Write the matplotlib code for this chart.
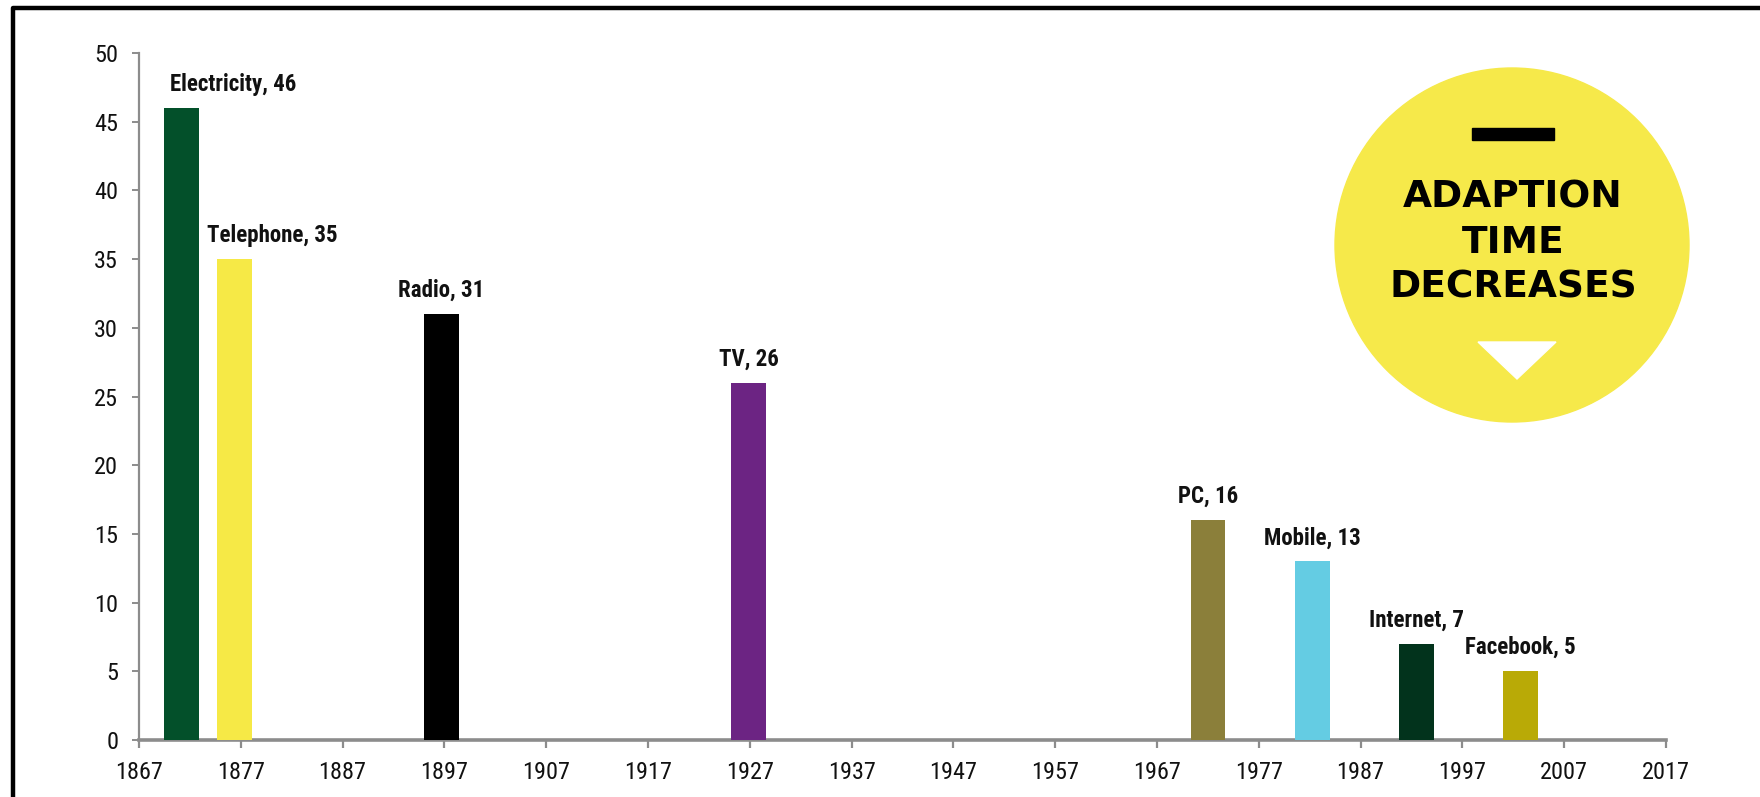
# plot.py
# Years it took each technology to be adopted

import matplotlib
matplotlib.use("Agg")
import matplotlib.pyplot as plt
from matplotlib import font_manager
from matplotlib.patches import Circle, Rectangle, Polygon
from matplotlib.lines import Line2D

technologies = ["Electricity", "Telephone", "Radio", "TV", "PC", "Mobile", "Internet", "Facebook"]
start_years = [1871.2, 1876.4, 1896.7, 1926.9, 1972.0, 1982.3, 1992.5, 2002.7]
adoption_years = [46, 35, 31, 26, 16, 13, 7, 5]
bar_colors = ["#03502A", "#F6E946", "#000000", "#6C2483", "#8B7F3A", "#64CCE3", "#02331C", "#B9AA06"]

year_ticks = list(range(1867, 2018, 10))
value_ticks = list(range(0, 51, 5))
badge_lines = ["ADAPTION", "TIME", "DECREASES"]


def pick_font(names):
    for name in names:
        try:
            font_manager.findfont(name, fallback_to_default=False)
            return name
        except Exception:
            pass
    return "DejaVu Sans"


def main():
    narrow = pick_font(["Liberation Sans Narrow", "Roboto Condensed", "DejaVu Sans"])

    fig = plt.figure(figsize=(17.6, 7.97), dpi=100)
    ax = fig.add_axes([139 / 1760, 1 - 740 / 797, (1666 - 139) / 1760, (740 - 53) / 797])

    ax.bar(start_years, adoption_years, width=3.4, color=bar_colors, zorder=3)

    # labels for the first two bars are pushed right, like in the source
    nudge = {"Electricity": 37, "Telephone": 27}
    for name, x, v in zip(technologies, start_years, adoption_years):
        ax.annotate(f"{name}, {v}", (x, v), xytext=(nudge.get(name, 0), 17),
                    textcoords="offset points", ha="center", va="center",
                    fontsize=16.5, fontweight="bold", family=narrow, color="#111111")

    ax.set_xlim(1867, 2017)
    ax.set_ylim(0, 50)
    ax.set_xticks(year_ticks)
    ax.set_yticks(value_ticks)
    for side in ["top", "right"]:
        ax.spines[side].set_visible(False)
    ax.spines["left"].set_color("#8C8C8C")
    ax.spines["left"].set_linewidth(1.6)
    ax.spines["bottom"].set_color("#8C8C8C")
    ax.spines["bottom"].set_linewidth(2.6)
    ax.tick_params(axis="y", length=5, width=1.4, color="#8C8C8C", pad=10)
    ax.tick_params(axis="x", length=6, width=1.6, color="#8C8C8C", pad=9)
    for lab in ax.get_xticklabels() + ax.get_yticklabels():
        lab.set_family(narrow)
        lab.set_fontsize(17.5)
        lab.set_color("#111111")

    # black frame, open to the right and bottom
    fig.add_artist(Line2D([13 / 1760, 13 / 1760, 1.01], [-0.01, 1 - 8 / 797, 1 - 8 / 797],
                          transform=fig.transFigure, color="black", linewidth=3.2))

    # yellow badge in inches so the circle stays round
    t = fig.dpi_scale_trans
    fig.add_artist(Circle((15.12, 5.52), 1.77, transform=t, color="#F6E94A", zorder=5))
    fig.add_artist(Rectangle((14.72, 6.57), 0.82, 0.12, transform=t, color="black", zorder=6))
    fig.add_artist(Polygon([(14.78, 4.55), (15.56, 4.55), (15.17, 4.18)], closed=True,
                           transform=t, color="white", zorder=6))
    for line, y in zip(badge_lines, [5.90, 5.44, 5.00]):
        fig.text(15.13, y, line, transform=t, ha="center", va="baseline",
                 fontsize=27, fontweight="bold", family="DejaVu Sans", color="black", zorder=7)

    fig.savefig("out.png", dpi=100, facecolor="white")


if __name__ == '__main__':
    main()
